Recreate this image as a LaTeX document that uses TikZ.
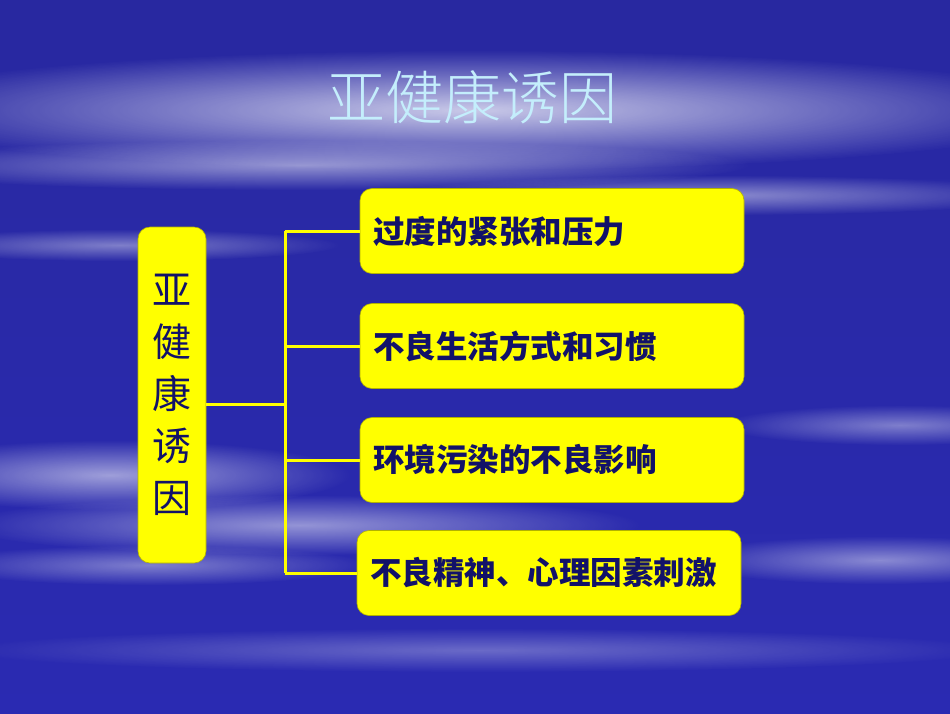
\documentclass[tikz,border=0pt]{standalone}
\usepackage{fontspec}
\newfontfamily\cjk{Noto Sans CJK SC}
\newfontfamily\cjklight{Noto Sans CJK SC Light}
\usetikzlibrary{positioning,fadings}
\tikzfading[name=softglow, inner color=transparent!0, outer color=transparent!100]
\definecolor{skyblue}{RGB}{42,42,178}
\definecolor{deepblue}{RGB}{40,40,160}
\definecolor{inkblue}{RGB}{18,18,105}
\definecolor{boxyellow}{RGB}{255,255,0}
\definecolor{titlecyan}{RGB}{196,238,252}
\tikzset{
  cause/.style={draw=boxyellow!70!black, line width=0.6pt, fill=boxyellow, rounded corners=12pt,
    minimum width=384pt, minimum height=85pt, text width=358pt, align=left,
    font=\cjk\bfseries\fontsize{31.5}{36}\selectfont, text=inkblue},
  branch/.style={draw=boxyellow, line width=3pt},
  streak/.style={fill=white, draw=none, path fading=softglow, fit fading=true}
}
\begin{document}
\begin{tikzpicture}
[x=1pt, y=-1pt]
% background
\useasboundingbox (0,0) rectangle (950,713);
\shade[top color=deepblue, bottom color=skyblue] (0,0) rectangle (950,713);
\fill[streak, opacity=0.75] (470,110) ellipse (620 and 60);
\fill[streak, opacity=0.50] (300,165) ellipse (450 and 25);
\fill[streak, opacity=0.45] (720,195) ellipse (330 and 20);
\fill[streak, opacity=0.40] (120,245) ellipse (220 and 16);
\fill[streak, opacity=0.40] (900,425) ellipse (180 and 20);
\fill[streak, opacity=0.55] (110,475) ellipse (240 and 35);
\fill[streak, opacity=0.50] (300,525) ellipse (340 and 30);
\fill[streak, opacity=0.45] (880,560) ellipse (200 and 24);
\fill[streak, opacity=0.40] (150,565) ellipse (220 and 20);
\fill[streak, opacity=0.30] (480,650) ellipse (520 and 22);
% title
\node (title) [text=titlecyan, font=\cjklight\fontsize{58}{60}\selectfont] at (472,97) {亚健康诱因};
% left box
\node (root) [draw=boxyellow!70!black, line width=0.6pt, fill=boxyellow, rounded corners=12pt,
  minimum width=68pt, minimum height=336pt, align=center, text=inkblue,
  font=\cjk\fontsize{39}{52}\selectfont] at (172,395) {亚\\健\\康\\诱\\因};
% causes
\node (c1) [cause] at (552,231) {过度的紧张和压力};
\node (c2) [cause] at (552,346) {不良生活方式和习惯};
\node (c3) [cause] at (552,460) {环境污染的不良影响};
\node (c4) [cause] at (549,573) {不良精神、心理因素刺激};
% bracket
\coordinate (hub) at (285,404);
\draw[branch] (root.east |- hub) -- (hub);
\draw[branch] (c1.west -| hub) -- (c4.west -| hub);
\draw[branch] (c1.west -| hub) -- (c1.west);
\draw[branch] (c2.west -| hub) -- (c2.west);
\draw[branch] (c3.west -| hub) -- (c3.west);
\draw[branch] (c4.west -| hub) -- (c4.west);
\end{tikzpicture}
\end{document}
